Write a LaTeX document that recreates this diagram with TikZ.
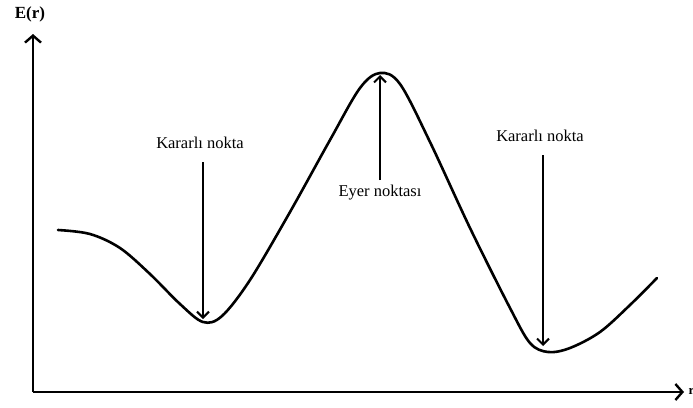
\documentclass[tikz,border=0pt]{standalone}
\usepackage{fontspec}
\setmainfont{Liberation Serif}
\usetikzlibrary{arrows.meta}
\begin{document}
\begin{tikzpicture}[x=1pt,y=-1pt,
  axis/.style={line width=2.6pt,-{Straight Barb[length=7pt,width=16pt,line width=2.4pt]}},
  marker/.style={line width=2.2pt,-{Straight Barb[length=6pt,width=12pt,line width=2pt]}},
  lbl/.style={font=\fontsize{16.5}{18}\selectfont, inner sep=0pt},
  curve/.style={line width=2.6pt, line join=round, line cap=round}]
\useasboundingbox (0,0) rectangle (693,407);
\clip (0,0) rectangle (693,407);
% axes
\coordinate (O) at (33,392);
\coordinate (ytip) at (33,34);
\coordinate (xtip) at (684,392);
\draw[axis] (O) -- (ytip);
\draw[axis] (O) -- (xtip);
\node[lbl, font=\fontsize{17}{18}\selectfont\bfseries] (ey) at (30,14) {E(r)};
\node[lbl, anchor=west, font=\fontsize{13}{14}\selectfont\bfseries] (rx) at (688.5,391) {r};
% curve
\draw[curve] plot[smooth, tension=0.55] coordinates {
 (58,230) (90,234) (120,248) (150,274) (180,304) (203,322) (222,316) (250,280)
 (290,212) (330,140) (360,88) (380,73) (400,84) (430,142) (470,228)
 (510,308) (530,343) (548,352) (570,348) (600,332) (630,305) (657,278)};
% labels and arrows
\node[lbl] (k1) at (200,143) {Kararlı nokta};
\coordinate (k1t) at (203,162);
\coordinate (m1) at (203,319);
\draw[marker] (k1t) -- (m1);
\node[lbl] (ey2) at (380,193) {Eyer noktası};
\coordinate (e1) at (380,180);
\coordinate (p1) at (380,75);
\draw[marker] (e1) -- (p1);
\node[lbl] (k2) at (540,136) {Kararlı nokta};
\coordinate (k2t) at (543,155);
\coordinate (m2) at (543,346);
\draw[marker] (k2t) -- (m2);
\end{tikzpicture}
\end{document}
